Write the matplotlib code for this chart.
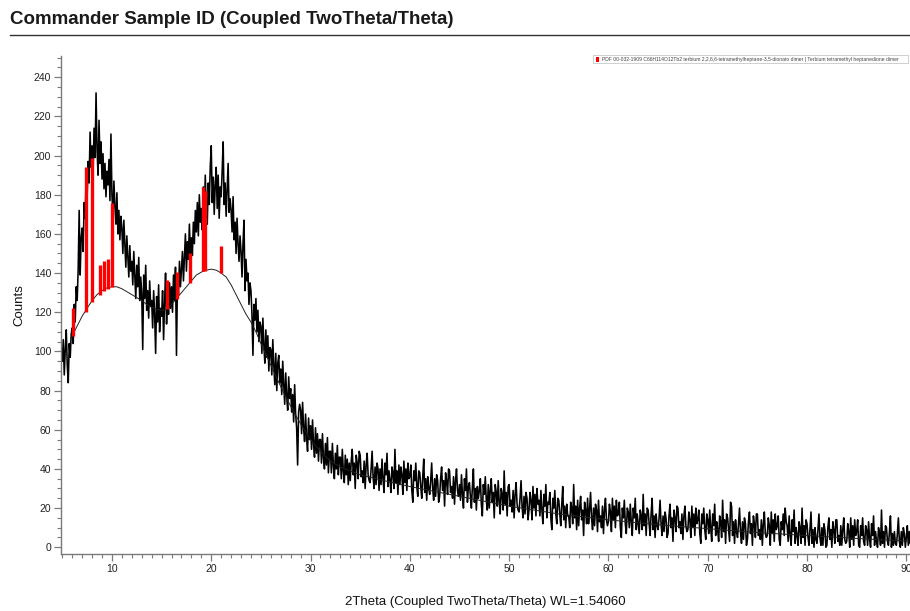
import numpy as np
import matplotlib
matplotlib.use("Agg")
import matplotlib.pyplot as plt
from matplotlib.ticker import MultipleLocator
from matplotlib.lines import Line2D
from matplotlib.patches import Rectangle

plt.rcParams["font.family"] = ["Liberation Sans", "DejaVu Sans"]

# Scan grid: 2Theta start and step (degrees)
two_theta_start = 5.0
two_theta_step = 0.1

# Measured counts, one row per degree of 2Theta (5.0 ... 90.5)
counts_rows = [
    [95, 106, 88, 101, 111, 93, 84, 104, 97, 109],          # 5
    [112, 104, 124, 115, 133, 126, 142, 172, 139, 158],     # 6
    [163, 151, 176, 168, 190, 178, 197, 186, 212, 194],     # 7
    [205, 191, 214, 199, 232, 203, 190, 218, 196, 207],     # 8
    [188, 201, 183, 196, 179, 192, 185, 198, 177, 211],     # 9
    [180, 169, 187, 174, 165, 181, 160, 172, 157, 169],     # 10
    [163, 150, 167, 155, 143, 159, 148, 138, 154, 141],     # 11
    [146, 134, 151, 139, 127, 144, 133, 148, 126, 138],     # 12
    [130, 101, 139, 127, 144, 121, 131, 117, 136, 123],     # 13
    [126, 112, 131, 119, 99, 128, 115, 134, 110, 122],      # 14
    [118, 131, 106, 125, 140, 114, 128, 119, 135, 122],     # 15
    [133, 120, 139, 126, 143, 98, 137, 129, 146, 133],      # 16
    [142, 151, 136, 148, 160, 141, 156, 147, 165, 150],     # 17
    [158, 149, 166, 155, 172, 161, 176, 159, 180, 166],     # 18
    [173, 162, 184, 168, 190, 172, 165, 186, 175, 194],     # 19
    [205, 176, 189, 170, 185, 194, 173, 190, 168, 184],     # 20
    [179, 192, 207, 175, 186, 169, 183, 196, 171, 178],     # 21
    [172, 161, 179, 157, 166, 150, 168, 155, 146, 159],     # 22
    [151, 138, 155, 167, 131, 147, 136, 140, 124, 135],     # 23
    [131, 119, 98, 124, 116, 127, 110, 121, 105, 115],      # 24
    [113, 99, 117, 103, 94, 111, 97, 108, 90, 102],         # 25
    [101, 88, 106, 93, 83, 99, 80, 94, 98, 84],             # 26
    [91, 78, 95, 83, 73, 89, 77, 70, 87, 76],               # 27
    [81, 69, 78, 64, 83, 68, 61, 42, 69, 73],               # 28
    [70, 58, 74, 61, 54, 68, 56, 49, 66, 55],               # 29
    [62, 50, 65, 53, 46, 61, 48, 58, 44, 55],               # 30
    [55, 43, 58, 46, 40, 53, 42, 56, 38, 49],               # 31
    [49, 38, 53, 42, 35, 48, 40, 52, 37, 46],               # 32
    [46, 35, 50, 39, 33, 47, 37, 45, 32, 43],               # 33
    [34, 44, 50, 37, 43, 30, 47, 43, 35, 49],               # 34
    [47, 36, 39, 33, 44, 30, 42, 48, 37, 34],               # 35
    [33, 40, 49, 36, 30, 41, 32, 43, 40, 29],               # 36
    [40, 32, 45, 35, 28, 43, 37, 48, 31, 39],               # 37
    [34, 28, 41, 38, 30, 50, 33, 39, 27, 42],               # 38
    [32, 41, 37, 27, 44, 33, 40, 29, 43, 35],               # 39
    [36, 42, 29, 23, 39, 34, 43, 31, 26, 39],               # 40
    [38, 31, 25, 36, 45, 28, 35, 24, 36, 30],               # 41
    [27, 34, 43, 30, 24, 35, 26, 37, 34, 23],               # 42
    [26, 35, 41, 29, 34, 21, 38, 34, 27, 40],               # 43
    [39, 28, 31, 25, 36, 22, 34, 40, 29, 26],               # 44
    [32, 24, 37, 27, 20, 35, 29, 40, 23, 31],               # 45
    [33, 26, 20, 31, 40, 23, 30, 19, 31, 25],               # 46
    [29, 35, 22, 16, 32, 27, 36, 24, 19, 32],               # 47
    [20, 29, 35, 23, 28, 15, 32, 28, 21, 34],               # 48
    [23, 17, 30, 27, 19, 39, 22, 28, 16, 31],               # 49
    [32, 21, 24, 18, 29, 15, 27, 33, 22, 19],               # 50
    [18, 25, 34, 21, 15, 26, 17, 28, 25, 14],               # 51
    [19, 28, 24, 14, 31, 20, 27, 16, 30, 22],               # 52
    [24, 16, 29, 19, 12, 27, 21, 32, 15, 23],               # 53
    [22, 28, 15, 9, 25, 20, 29, 17, 12, 25],                # 54
    [24, 17, 11, 22, 31, 14, 21, 10, 22, 16],               # 55
    [16, 10, 23, 20, 12, 32, 15, 21, 9, 24],                # 56
    [11, 20, 26, 14, 19, 6, 23, 19, 12, 25],                # 57
    [12, 19, 28, 15, 9, 20, 11, 22, 19, 8],                 # 58
    [24, 13, 16, 10, 21, 7, 19, 25, 14, 11],                # 59
    [13, 22, 18, 8, 25, 14, 21, 10, 24, 16],                # 60
    [17, 23, 10, 5, 20, 15, 24, 12, 7, 20],                 # 61
    [18, 10, 22, 13, 6, 20, 15, 25, 9, 17],                 # 62
    [12, 7, 19, 16, 9, 27, 11, 17, 6, 20],                  # 63
    [19, 12, 6, 17, 25, 9, 16, 5, 17, 11],                  # 64
    [9, 15, 24, 12, 6, 16, 8, 18, 15, 5],                   # 65
    [7, 16, 22, 10, 15, 3, 19, 15, 8, 21],                  # 66
    [20, 10, 13, 7, 17, 4, 16, 21, 11, 8],                  # 67
    [9, 18, 14, 5, 21, 10, 17, 6, 20, 12],                  # 68
    [14, 19, 7, 2, 17, 12, 20, 9, 4, 17],                   # 69
    [14, 7, 19, 10, 3, 17, 11, 22, 6, 13],                  # 70
    [9, 3, 16, 13, 5, 24, 8, 14, 2, 17],                    # 71
    [15, 9, 3, 23, 21, 6, 13, 2, 14, 8],                    # 72
    [5, 12, 20, 8, 2, 13, 4, 15, 12, 1],                    # 73
    [4, 13, 18, 7, 12, 1, 16, 12, 5, 17],                   # 74
    [17, 6, 9, 4, 14, 1, 12, 18, 7, 5],                     # 75
    [6, 15, 11, 1, 18, 7, 14, 3, 17, 9],                    # 76
    [11, 16, 4, 1, 13, 9, 17, 6, 20, 13],                   # 77
    [11, 3, 16, 6, 1, 14, 8, 19, 2, 10],                    # 78
    [6, 1, 13, 10, 2, 20, 5, 11, 1, 14],                    # 79
    [12, 5, 1, 10, 18, 2, 9, 0, 10, 4],                     # 80
    [2, 9, 17, 5, 1, 10, 1, 12, 9, 0],                      # 81
    [1, 10, 15, 4, 9, 0, 13, 9, 2, 14],                     # 82
    [14, 3, 6, 1, 11, 1, 9, 15, 4, 2],                      # 83
    [3, 12, 8, 0, 15, 4, 11, 1, 14, 6],                     # 84
    [8, 14, 1, 0, 11, 6, 15, 3, 1, 11],                     # 85
    [9, 1, 13, 4, 0, 12, 6, 16, 1, 8],                      # 86
    [3, 0, 10, 7, 1, 19, 2, 8, 0, 11],                      # 87
    [10, 3, 1, 8, 16, 0, 7, 1, 8, 2],                       # 88
    [1, 7, 15, 3, 0, 8, 1, 10, 7, 0],                       # 89
    [5, 11, 1, 8, 2, 6],                                    # 90
]

# Fitted background curve
bg_two_theta = [5.9, 6.5, 7.0, 7.5, 8.0, 8.5, 9.0, 9.5, 10.0, 10.5, 11.0, 11.5,
                12.0, 12.5, 13.0, 13.5, 14.0, 14.5, 15.0, 15.5, 16.0, 16.5, 17.0,
                17.5, 18.0, 18.5, 19.0, 19.5, 20.0, 20.5, 21.0, 21.5, 22.0, 22.5,
                23.0, 23.5, 24.0, 24.5, 25.0, 26.0, 27.0, 28.0, 29.0, 30.0, 31.0,
                32.0, 33.0, 34.0, 35.0, 37.0, 40.0, 45.0, 50.0, 55.0, 60.0, 65.0,
                70.0, 75.0, 80.0, 85.0, 90.5]
bg_counts = [107, 113, 118, 122, 126, 129, 131, 132.5, 133, 133, 132, 130.5,
             129, 127.5, 126, 124, 122.5, 121.5, 121, 121.5, 124, 127, 130,
             133, 136, 139, 140.5, 141.5, 142, 141.5, 140, 138, 134, 129,
             124, 119, 115, 110, 104, 93, 82, 72, 63, 55, 49,
             44, 41, 39, 37, 34.5, 31, 26, 21, 17, 14, 11.5,
             9.5, 7.5, 6, 4.5, 3]

# Reference pattern sticks (PDF 00-032-1909)
stick_two_theta = [6.03, 7.40, 7.97, 8.78, 9.20, 9.60, 9.98,
                   15.5, 16.6, 17.85, 19.2, 19.35, 21.0]
stick_base = [108, 120, 125, 129, 131, 132, 133,
              121.5, 127, 135, 141, 141, 140]
stick_top = [122, 194, 199, 144, 146, 147, 176,
             136.5, 140.5, 150, 184, 182, 154]

counts = [c for row in counts_rows for c in row]
two_theta = two_theta_start + two_theta_step * np.arange(len(counts))

W, H = 910, 611
fig = plt.figure(figsize=(W / 100, H / 100), dpi=100)
ax = fig.add_axes([61 / W, 1 - 554.3 / H, (910 - 61) / W, (554.3 - 55.7) / H])

ax.plot(two_theta, counts, color="black", lw=1.15, zorder=2)
ax.plot(bg_two_theta, bg_counts, color="#222222", lw=0.7, zorder=3)
ax.vlines(stick_two_theta, stick_base, stick_top, colors="#ff0000", lw=2.4, zorder=4)

ax.set_xlim(4.87, 90.37)
ax.set_ylim(-3.6, 251)

for side in ("top", "right"):
    ax.spines[side].set_visible(False)
for side in ("left", "bottom"):
    ax.spines[side].set_color("#7a7a7a")
    ax.spines[side].set_linewidth(1.0)

ax.xaxis.set_major_locator(MultipleLocator(10))
ax.xaxis.set_minor_locator(MultipleLocator(1))
ax.yaxis.set_major_locator(MultipleLocator(20))
ax.yaxis.set_minor_locator(MultipleLocator(5))
ax.tick_params(which="major", length=5, width=0.9, color="#7a7a7a",
               labelsize=7.5, labelcolor="#222222", pad=2)
ax.tick_params(which="minor", length=3, width=0.8, color="#7a7a7a")

ax.set_xlabel("2Theta (Coupled TwoTheta/Theta) WL=1.54060", fontsize=9.5,
              color="#111111", labelpad=16)
ax.set_ylabel("Counts", fontsize=9.5, color="#111111", labelpad=6)

# Header
fig.text(10 / W, 1 - 19 / H, "Commander Sample ID (Coupled TwoTheta/Theta)",
         fontsize=13.5, fontweight="bold", va="center", ha="left", color="#1a1a1a")
fig.add_artist(Line2D([10 / W, 1.0], [1 - 35 / H, 1 - 35 / H],
                      color="#333333", lw=1.0, transform=fig.transFigure))

# Legend box for the reference pattern
fig.add_artist(Rectangle((593 / W, 1 - 63 / H), 315 / W, 8 / H, transform=fig.transFigure,
                         facecolor="white", edgecolor="#c8c8c8", lw=0.6, zorder=5))
fig.add_artist(Rectangle((596 / W, 1 - 61.5 / H), 2.5 / W, 5 / H, transform=fig.transFigure,
                         facecolor="#ff0000", edgecolor="none", zorder=6))
fig.text(602 / W, 1 - 59 / H,
         "PDF 00-032-1909 C66H114O12Tb2 terbium 2,2,6,6-tetramethylheptane-3,5-dionato dimer"
         " | Terbium tetramethyl heptanedione dimer",
         fontsize=3.6, va="center", ha="left", color="#444444", zorder=7)

fig.savefig("out.png", dpi=100)
